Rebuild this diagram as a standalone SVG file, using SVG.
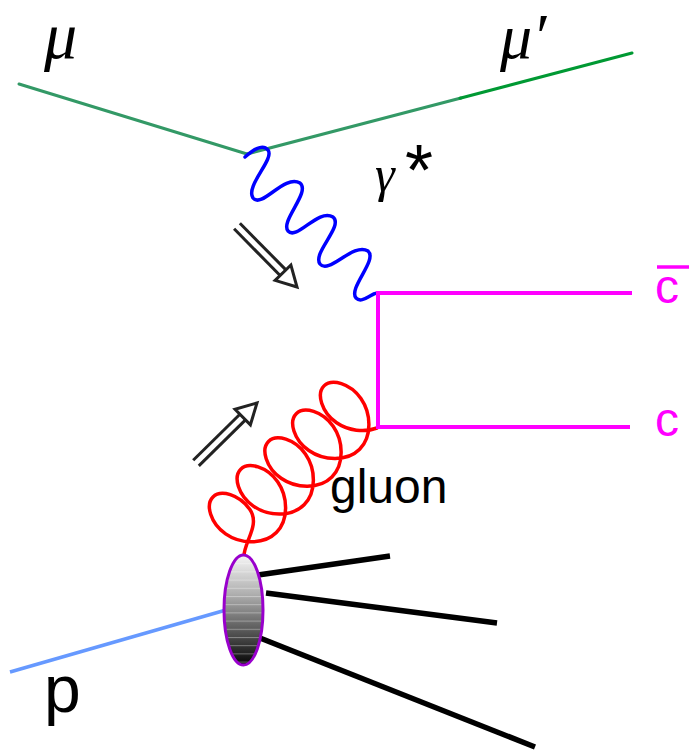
<svg xmlns="http://www.w3.org/2000/svg" width="690" height="750" viewBox="0 0 690 750">
<style>
.lep{fill:none;stroke:#339966;stroke-width:3;stroke-linecap:round}
.pho{fill:none;stroke:#0000ff;stroke-width:3.5;stroke-linecap:round}
.glu{fill:none;stroke:#ff0000;stroke-width:3.5;stroke-linecap:round;stroke-linejoin:round}
.qrk{fill:none;stroke:#ff00ff;stroke-width:4}
.jet{fill:none;stroke:#000;stroke-width:5.5}
.arr{fill:none;stroke:#222;stroke-width:3}
.head{fill:#fff;stroke:#222;stroke-width:3;stroke-linejoin:miter}
.sym{font-family:"Liberation Serif","Times New Roman",serif;font-style:italic;fill:#000}
.lbl{font-family:"Liberation Sans",Arial,sans-serif;fill:#000}
.qlbl{font-family:"Liberation Sans",Arial,sans-serif;fill:#ff00ff}
</style>
<defs>
<linearGradient id="blobGrad" x1="0" y1="0" x2="0" y2="1">
<stop offset="0" stop-color="#f6f6f6"/>
<stop offset="0.35" stop-color="#b0b0b0"/>
<stop offset="0.7" stop-color="#555"/>
<stop offset="1" stop-color="#050505"/>
</linearGradient>
<pattern id="bands" x="0" y="555" width="40" height="8.2" patternUnits="userSpaceOnUse">
<rect x="0" y="0" width="40" height="1" fill="#ffffff" fill-opacity="0.35"/>
</pattern>
</defs>

<g id="connectors">
<line id="mu-in" class="lep" x1="19" y1="84" x2="247" y2="154"/>
<line id="mu-out" class="lep" x1="247" y1="154" x2="461" y2="98"/>
<line id="mu-out-end" class="lep" style="stroke:#009933" x1="460" y1="98.3" x2="632" y2="53"/>
<path id="photon" class="pho" d="M245,157 C252,151 262,143 268,150 C275,159 245,186 253,198 C262,209 284,174 300,183 C311,192 280,221 288,231 C297,241 318,208 333,217 C344,226 312,253 320,264 C329,275 353,242 368,251 C378,260 348,288 356,298 C362,304 370,294 377,293"/>
<path id="gluon" class="glu" d="M244,556 c0,-14 16.52,-31.18 5.88,-46.45
c-10.64,-15.27 -29.22,-20.28 -36.9,-12.6 c-7.68,7.68 -2.67,26.26 12.6,36.9 c15.27,10.64 38.47,11.03 50.78,-1.28 c12.31,-12.31 11.92,-35.52 1.28,-50.79
c-10.64,-15.27 -29.22,-20.28 -36.9,-12.6 c-7.68,7.68 -2.67,26.26 12.6,36.9 c15.27,10.64 38.47,11.03 50.78,-1.28 c12.31,-12.31 11.92,-35.52 1.28,-50.79
c-10.64,-15.27 -29.22,-20.28 -36.9,-12.6 c-7.68,7.68 -2.67,26.26 12.6,36.9 c15.27,10.64 38.47,11.03 50.78,-1.28 c12.31,-12.31 11.92,-35.52 1.28,-50.79
c-10.64,-15.27 -29.22,-20.28 -36.9,-12.6 c-7.68,7.68 -2.67,26.26 12.6,36.9 c15.27,10.64 38.47,11.03 50.78,-1.28 c12.31,-12.31 11.92,-35.52 1.28,-50.79
c-10.64,-15.27 -29.22,-20.28 -36.9,-12.6 c-7.68,7.68 -2.67,26.26 12.6,36.9
C348,430.7 364.7,432.8 377,428"/>
<path id="charm" class="qrk" d="M632,293 H378 V427 H630"/>
<line id="proton" x1="10" y1="672" x2="226" y2="610" stroke="#6699ff" stroke-width="3.5"/>
<line id="jet1" class="jet" x1="258" y1="575" x2="390" y2="556"/>
<line id="jet2" class="jet" x1="266" y1="593" x2="497" y2="623"/>
<line id="jet3" class="jet" x1="260" y1="638" x2="535" y2="747"/>
</g>

<g id="hadron">
<ellipse cx="243.5" cy="610" rx="19.5" ry="55" fill="url(#blobGrad)"/>
<ellipse cx="243.5" cy="610" rx="19.5" ry="55" fill="url(#bands)"/>
<ellipse cx="243.5" cy="610" rx="19.5" ry="55" fill="none" stroke="#9900cc" stroke-width="3"/>
</g>

<g id="arrow-photon">
<line class="arr" x1="239.9" y1="223.2" x2="285.9" y2="269.9"/>
<line class="arr" x1="234.1" y1="228.8" x2="280.1" y2="275.5"/>
<polygon class="head" points="297,287 275.1,280.4 290.9,265"/>
</g>

<g id="arrow-gluon">
<line class="arr" x1="198.8" y1="465.9" x2="245.5" y2="419.9"/>
<line class="arr" x1="193.2" y1="460.2" x2="239.9" y2="414.2"/>
<polygon class="head" points="257,403 235,409.2 250.4,424.8"/>
</g>

<g id="labels">
<text class="sym" x="44" y="58" font-size="66">μ</text>
<text class="sym" x="500" y="58" font-size="64">μ′</text>
<text class="sym" x="375" y="191" font-size="50">γ</text>
<text class="lbl" x="405" y="195" font-size="72">*</text>
<text class="qlbl" x="655" y="303" font-size="48">c</text>
<line x1="657" y1="267" x2="689" y2="267" stroke="#ff00ff" stroke-width="3.5"/>
<text class="qlbl" x="655" y="436" font-size="48">c</text>
<text class="lbl" x="330" y="503" font-size="48">gluon</text>
<text class="lbl" x="44" y="712" font-size="66">p</text>
</g>
</svg>
